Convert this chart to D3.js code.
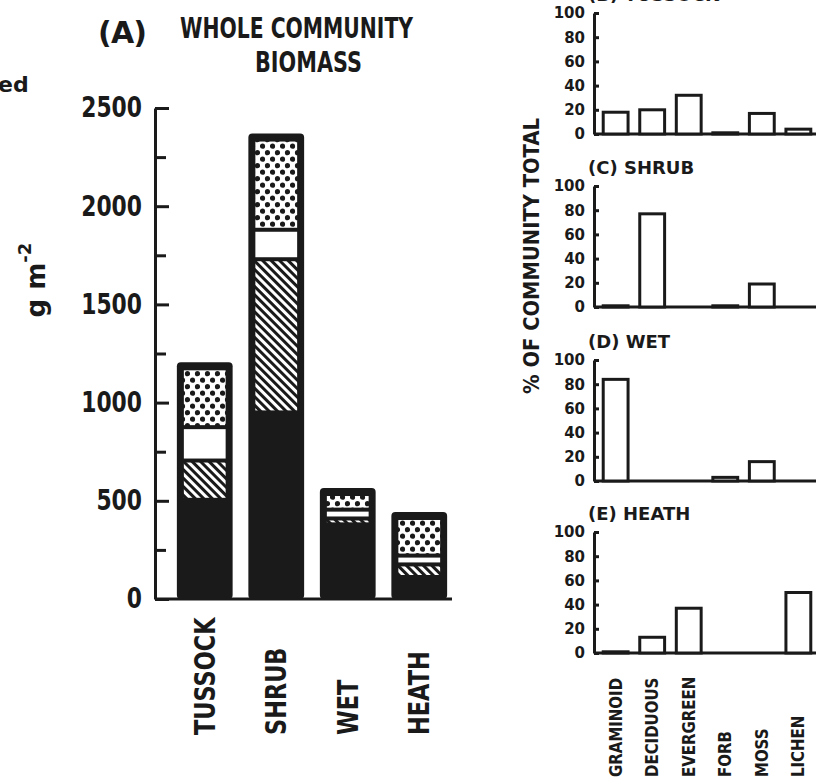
<!DOCTYPE html>
<html>
<head>
<meta charset="utf-8">
<script src="https://cdn.jsdelivr.net/npm/d3@7"></script>
<style>
  body { margin: 0; background: #fff; }
  svg text { font-family: "DejaVu Sans", sans-serif; font-weight: bold; fill: #1a1a1a; }
</style>
</head>
<body>
<script>
// (A) whole community biomass, g m-2, stacked from the bottom
var communities = ["TUSSOCK", "SHRUB", "WET", "HEATH"];
var layerSolid   = [505, 950, 380, 112];
var layerHatched = [200, 780, 30, 64];
var layerOpen    = [170, 150, 45, 45];
var layerDotted  = [330, 490, 110, 222];
var biomassTicks = [0, 500, 1000, 1500, 2000, 2500];
var biomassMinor = [250, 750, 1250, 1750, 2250];

// (B)-(E) % of community total by growth form
var groups = ["GRAMINOID", "DECIDUOUS", "EVERGREEN", "FORB", "MOSS", "LICHEN"];
var pctTussock = [18, 20, 32, 1, 17, 4];
var pctShrub   = [1, 77, 0, 1, 19, 0];
var pctWet     = [84, 0, 0, 3, 16, 0];
var pctHeath   = [1, 13, 37, 0, 0, 50];
var panelTitles = ["(B) TUSSOCK", "(C) SHRUB", "(D) WET", "(E) HEATH"];
var pctTicks = [0, 20, 40, 60, 80, 100];

var ink = "#1a1a1a";
var w = 823, h = 781;

// squeeze text horizontally, the lettering in the figure is narrow
function condense(sel, f) {
    sel.each(function() {
        var len = this.getComputedTextLength();
        d3.select(this).attr("textLength", len * f).attr("lengthAdjust", "spacingAndGlyphs");
    });
}

var svg = d3.select("body").append("svg")
    .attr("width", w)
    .attr("height", h);

// fill patterns
var defs = svg.append("defs");
var hatch = defs.append("pattern")
    .attr("id", "hatch")
    .attr("patternUnits", "userSpaceOnUse")
    .attr("width", 6).attr("height", 6)
    .attr("patternTransform", "rotate(-45)");
hatch.append("rect").attr("width", 6).attr("height", 6).attr("fill", "#fff");
hatch.append("rect").attr("width", 3).attr("height", 6).attr("fill", ink);

var dots = defs.append("pattern")
    .attr("id", "dots")
    .attr("patternUnits", "userSpaceOnUse")
    .attr("width", 10).attr("height", 13);
dots.append("rect").attr("width", 10).attr("height", 13).attr("fill", "#fff");
dots.append("circle").attr("cx", 2.5).attr("cy", 3.2).attr("r", 2.6).attr("fill", ink);
dots.append("circle").attr("cx", 7.5).attr("cy", 9.7).attr("r", 2.6).attr("fill", ink);

// ---------- panel A ----------
var xA = d3.scaleBand()
    .domain(communities)
    .range([169, 455])
    .paddingInner(0.22)
    .paddingOuter(0.11);

var yA = d3.scaleLinear()
    .domain([0, 2500])
    .range([599, 108]);

var keys = ["solid", "hatched", "open", "dotted"];
var fills = { solid: ink, hatched: "url(#hatch)", open: "#fff", dotted: "url(#dots)" };
var rows = communities.map(function(c, i) {
    return { name: c, solid: layerSolid[i], hatched: layerHatched[i], open: layerOpen[i], dotted: layerDotted[i] };
});
var stacked = d3.stack().keys(keys)(rows);
var totals = rows.map(function(r) { return r.solid + r.hatched + r.open + r.dotted; });

// black outline of each bar
svg.append("g").selectAll("rect")
    .data(rows)
    .enter()
    .append("rect")
    .attr("x", function(d) { return xA(d.name); })
    .attr("y", function(d, i) { return yA(totals[i]); })
    .attr("width", xA.bandwidth())
    .attr("height", function(d, i) { return yA(0) - yA(totals[i]); })
    .attr("rx", 4)
    .attr("fill", ink);

// patterned segments inset into the outline
var inset = 7;
stacked.forEach(function(layer) {
    if (layer.key === "solid") return;
    var top = layer.key === "dotted";
    svg.append("g").selectAll("rect")
        .data(layer)
        .enter()
        .append("rect")
        .attr("x", function(d) { return xA(d.data.name) + inset; })
        .attr("y", function(d) { return yA(d[1]) + (top ? 8 : 2); })
        .attr("width", xA.bandwidth() - inset * 2)
        .attr("height", function(d) {
            return Math.max(0, yA(d[0]) - 2 - (yA(d[1]) + (top ? 8 : 2)));
        })
        .attr("fill", fills[layer.key]);
});

// y axis, ticks pointing inward
svg.append("g")
    .attr("transform", "translate(155,0)")
    .call(d3.axisLeft(yA).tickValues(biomassTicks).tickFormat(d3.format("d"))
        .tickSizeInner(-14).tickSizeOuter(0).tickPadding(13))
    .call(function(g) {
        g.selectAll("path,line").attr("stroke", ink).attr("stroke-width", 3);
        g.selectAll("text").attr("font-size", 28).attr("font-family", null).attr("fill", ink)
            .call(condense, 0.78);
    });
svg.append("g")
    .attr("transform", "translate(155,0)")
    .call(d3.axisLeft(yA).tickValues(biomassMinor).tickSizeInner(-11).tickSizeOuter(0).tickFormat(""))
    .call(function(g) {
        g.select(".domain").remove();
        g.selectAll("line").attr("stroke", ink).attr("stroke-width", 3);
    });

// baseline
svg.append("line")
    .attr("x1", 155).attr("x2", 452)
    .attr("y1", yA(0)).attr("y2", yA(0))
    .attr("stroke", ink).attr("stroke-width", 3);

// category labels
svg.append("g").selectAll("text")
    .data(communities)
    .enter()
    .append("text")
    .attr("transform", function(d) {
        return "translate(" + (xA(d) + xA.bandwidth() / 2) + ",735) rotate(-90)";
    })
    .attr("dy", "0.36em")
    .attr("font-size", 28)
    .text(function(d) { return d; })
    .call(condense, 0.8);

// titles
svg.append("text").attr("x", 98).attr("y", 43).attr("font-size", 30)
    .attr("textLength", 49).attr("lengthAdjust", "spacing").text("(A)");
svg.append("text").attr("x", 180).attr("y", 38).attr("font-size", 28)
    .attr("textLength", 233).attr("lengthAdjust", "spacingAndGlyphs").text("WHOLE COMMUNITY");
svg.append("text").attr("x", 255).attr("y", 72).attr("font-size", 28)
    .attr("textLength", 107).attr("lengthAdjust", "spacingAndGlyphs").text("BIOMASS");
svg.append("text").attr("x", -2).attr("y", 92).attr("font-size", 22).text("ed");

// g m-2
var unit = svg.append("text")
    .attr("transform", "translate(45,280) rotate(-90)")
    .attr("text-anchor", "middle")
    .attr("font-size", 26);
unit.append("tspan").text("g m");
unit.append("tspan").attr("dy", -14).attr("font-size", 18).text("-2");

// ---------- panels B-E ----------
var xB = d3.scaleBand()
    .domain(groups)
    .range([597, 817])
    .paddingInner(0.32)
    .paddingOuter(0.17);

var panelData = [pctTussock, pctShrub, pctWet, pctHeath];
var baselines = [134, 307, 481, 653];

panelData.forEach(function(vals, p) {
    var y = d3.scaleLinear().domain([0, 100]).range([baselines[p], baselines[p] - 121]);
    var g = svg.append("g");

    g.append("g")
        .attr("transform", "translate(594,0)")
        .call(d3.axisLeft(y).tickValues(pctTicks).tickSizeInner(-5).tickSizeOuter(0).tickPadding(9))
        .call(function(a) {
            a.selectAll("path,line").attr("stroke", ink).attr("stroke-width", 3);
            a.selectAll("text").attr("font-size", 15).attr("font-family", null).attr("fill", ink);
        });

    g.append("line")
        .attr("x1", 594).attr("x2", 816)
        .attr("y1", y(0)).attr("y2", y(0))
        .attr("stroke", ink).attr("stroke-width", 3);

    g.selectAll(".bar")
        .data(vals)
        .enter()
        .append("rect")
        .attr("class", "bar")
        .attr("x", function(d, i) { return xB(groups[i]); })
        .attr("y", function(d) { return y(d); })
        .attr("width", xB.bandwidth())
        .attr("height", function(d) { return y(0) - y(d); })
        .attr("fill", "#fff")
        .attr("stroke", ink)
        .attr("stroke-width", 3);

    g.append("text")
        .attr("x", 588)
        .attr("y", y(100) - 12)
        .attr("font-size", 18)
        .text(panelTitles[p]);
});

// shared y label
svg.append("text")
    .attr("transform", "translate(531,256) rotate(-90)")
    .attr("text-anchor", "middle")
    .attr("dy", "0.36em")
    .attr("font-size", 21)
    .text("% OF COMMUNITY TOTAL")
    .call(condense, 0.93);

// growth form labels
svg.append("g").selectAll("text")
    .data(groups)
    .enter()
    .append("text")
    .attr("transform", function(d) {
        return "translate(" + (xB(d) + xB.bandwidth() / 2) + ",777) rotate(-90)";
    })
    .attr("dy", "0.36em")
    .attr("font-size", 17)
    .text(function(d) { return d; })
    .call(condense, 0.88);
</script>
</body>
</html>
